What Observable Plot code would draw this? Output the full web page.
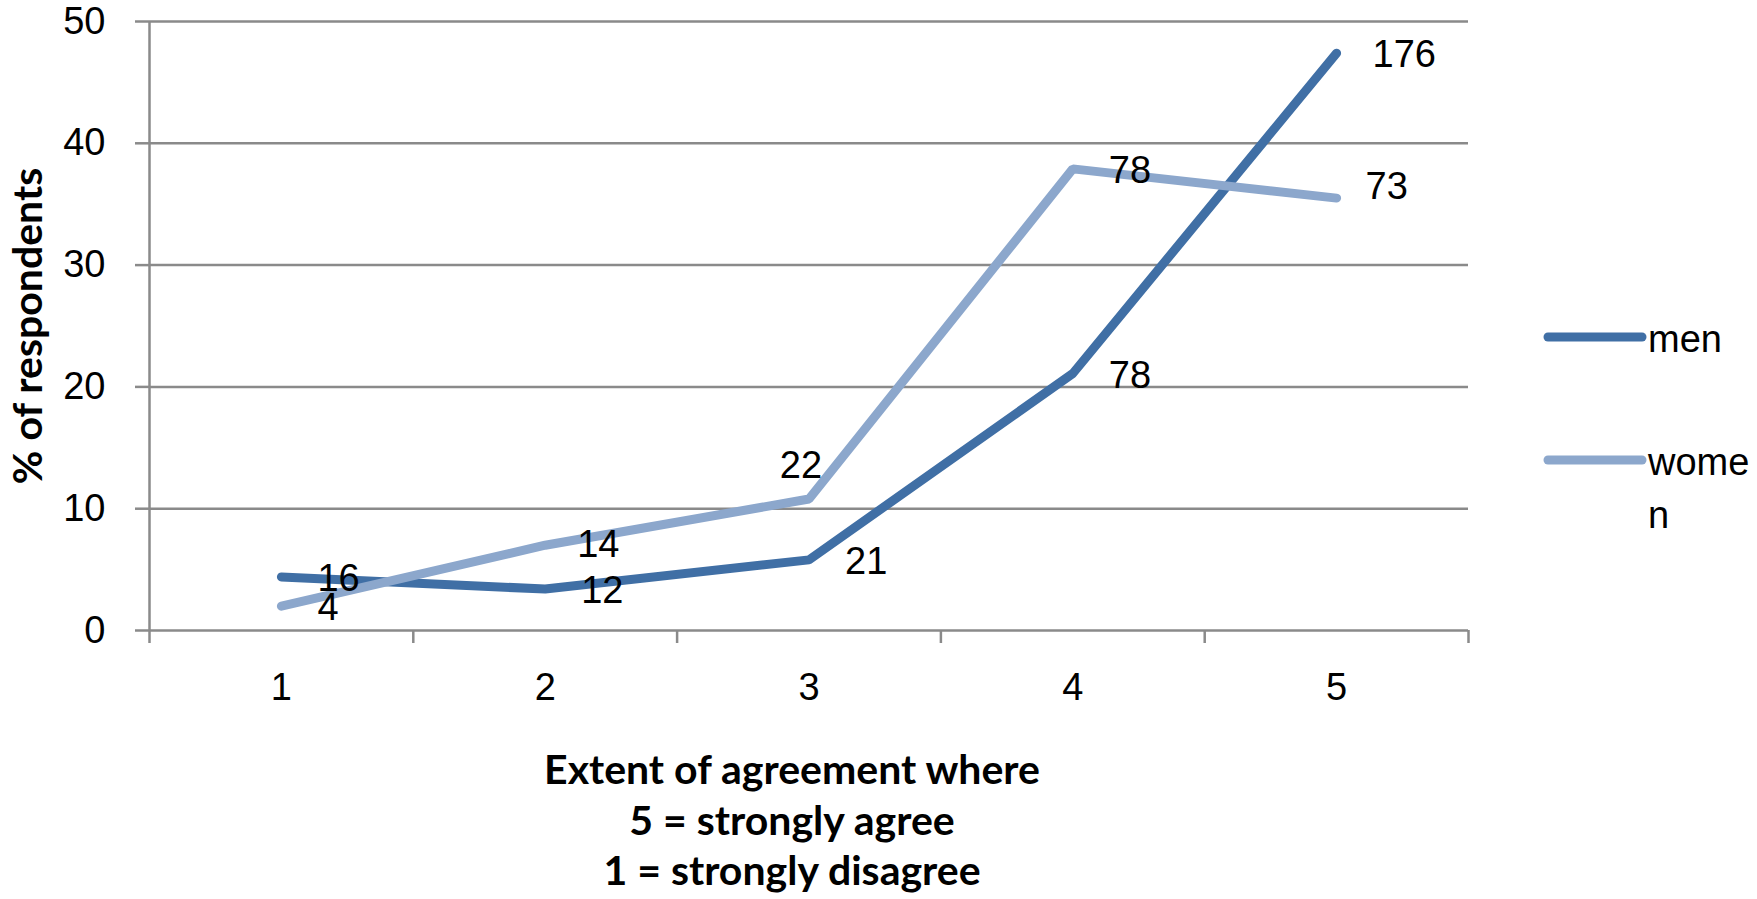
<!DOCTYPE html>
<html>
<head>
<meta charset="utf-8">
<script src="https://cdn.jsdelivr.net/npm/d3@7"></script>
<script src="https://cdn.jsdelivr.net/npm/@observablehq/plot@0.6"></script>
<style>
  html, body { margin: 0; padding: 0; background: #fff; }
  #chart { width: 1757px; height: 899px; }
</style>
</head>
<body>
<div id="chart"></div>
<script>
// Agreement level: 1 = strongly disagree ... 5 = strongly agree
const levels = [1, 2, 3, 4, 5];
// Share of respondents at each level (%)
const menPct = [4.4, 3.4, 5.8, 21.1, 47.4];
const womenPct = [2.0, 7.0, 10.8, 37.9, 35.5];
// Respondent counts printed next to each point
const menCount = [16, 12, 21, 78, 176];
const womenCount = [4, 14, 22, 78, 73];
const seriesNames = ["men", "women"];
const yTicks = [0, 10, 20, 30, 40, 50];
const yTitle = "% of respondents";
const xTitle = "Extent of agreement where\n5 = strongly agree\n1 = strongly disagree";

// Styling
const colors = { men: "#406fa5", women: "#8ca7cc" };
const gridColor = "#8a8a8a";
const textFont = "Liberation Sans, Arial, sans-serif";
const titleFont = "Lato, Calibri, sans-serif";
const textSize = 38;
// Where each count label sits relative to its point, plus small hand nudges [dx, dy]
const labelPlacement = {
  men:   ["right", "right", "right", "right", "right"],
  women: ["right", "right", "above", "right", "right"]
};
const labelNudge = {
  men:   [[0, 0], [0, 0], [0, 0], [0, 0], [0, 0]],
  women: [[0, 0], [-4, -2], [0, 0], [0, 0], [-7, -13]]
};

const series = [
  { name: seriesNames[0], pct: menPct, count: menCount },
  { name: seriesNames[1], pct: womenPct, count: womenCount }
];
const rows = series.flatMap(s => levels.map((level, i) => ({
  series: s.name, level, pct: s.pct[i], count: s.count[i],
  place: labelPlacement[s.name][i], nudge: labelNudge[s.name][i]
})));
// category boundaries carry the x-axis tick marks
const boundaries = [...levels.map(l => l - 0.5), levels[levels.length - 1] + 0.5];

const rightLabels = rows.filter(r => r.place === "right");
const aboveLabels = rows.filter(r => r.place === "above");

const plot = Plot.plot({
  width: 1757,
  height: 899,
  marginLeft: 149,
  marginRight: 289,
  marginTop: 21,
  marginBottom: 269,
  style: { fontFamily: textFont, background: "#fff", color: "#000", overflow: "visible" },
  x: { domain: [boundaries[0], boundaries[boundaries.length - 1]] },
  y: { domain: [0, 50] },
  marks: [
    Plot.ruleY(yTicks, { stroke: gridColor, strokeWidth: 2.5 }),
    Plot.ruleX([boundaries[0]], { stroke: gridColor, strokeWidth: 2.5 }),
    Plot.axisY({ ticks: yTicks, tickSize: 14, tickPadding: 30, stroke: gridColor, strokeWidth: 2.5,
                 fill: "#000", fontSize: textSize, fontFamily: textFont, label: null }),
    Plot.axisX({ ticks: boundaries, tickSize: 13, tickFormat: () => "", stroke: gridColor,
                 strokeWidth: 2.5, label: null }),
    Plot.axisX({ ticks: levels, tickSize: 0, tickPadding: 43, tickFormat: d => String(d),
                 fill: "#000", fontSize: textSize, fontFamily: textFont, label: null }),
    ...series.map(s => Plot.line(rows.filter(r => r.series === s.name), {
      x: "level", y: "pct", stroke: colors[s.name], strokeWidth: 9,
      strokeLinecap: "round", strokeLinejoin: "miter"
    })),
    // count labels to the right of their points, each drawn as its own text mark with its nudge
    ...rightLabels.map(r => Plot.text([r], {
      x: "level", y: "pct", text: "count", textAnchor: "start",
      dx: 36 + r.nudge[0], dy: 2 + r.nudge[1],
      fontSize: textSize, fontFamily: textFont, fill: "#000"
    })),
    ...aboveLabels.map(r => Plot.text([r], {
      x: "level", y: "pct", text: "count", textAnchor: "middle",
      dx: -8 + r.nudge[0], dy: -33 + r.nudge[1],
      fontSize: textSize, fontFamily: textFont, fill: "#000"
    })),
    Plot.text([yTitle], {
      text: d => d, frameAnchor: "left", textAnchor: "middle", dx: -121, rotate: -90,
      fontSize: 41, fontWeight: "bold", fontFamily: titleFont, fill: "#000"
    }),
    Plot.text([xTitle], {
      text: d => d, frameAnchor: "bottom", dx: -17, dy: 118, lineAnchor: "top", lineHeight: 1.23,
      fontSize: 41, fontWeight: "bold", fontFamily: titleFont, fill: "#000"
    })
  ]
});

document.getElementById("chart").appendChild(plot);

// Legend to the right of the plot; long names wrap character by character
const svg = d3.select(plot);
const legendX = 1548, legendLineLen = 94, legendTop = 337, legendStep = 123;
const legendTextX = legendX + legendLineLen + 6;
const legendMaxW = 1757 - legendTextX;
const legendLineGap = 53;
const legend = svg.append("g")
  .attr("font-family", textFont)
  .attr("font-size", textSize)
  .attr("text-anchor", "start")
  .attr("fill", "#000");

seriesNames.forEach((name, i) => {
  const y = legendTop + i * legendStep;
  legend.append("line")
    .attr("x1", legendX).attr("x2", legendX + legendLineLen)
    .attr("y1", y).attr("y2", y)
    .attr("stroke", colors[name]).attr("stroke-width", 9)
    .attr("stroke-linecap", "round");
  const text = legend.append("text").attr("x", legendTextX).attr("y", y + 15);
  let line = "";
  let tspan = text.append("tspan").attr("x", legendTextX);
  for (const ch of name) {
    tspan.text(line + ch);
    if (tspan.node().getComputedTextLength() > legendMaxW && line.length) {
      tspan.text(line);
      line = ch;
      tspan = text.append("tspan").attr("x", legendTextX).attr("dy", legendLineGap).text(line);
    } else {
      line += ch;
    }
  }
});
</script>
</body>
</html>
